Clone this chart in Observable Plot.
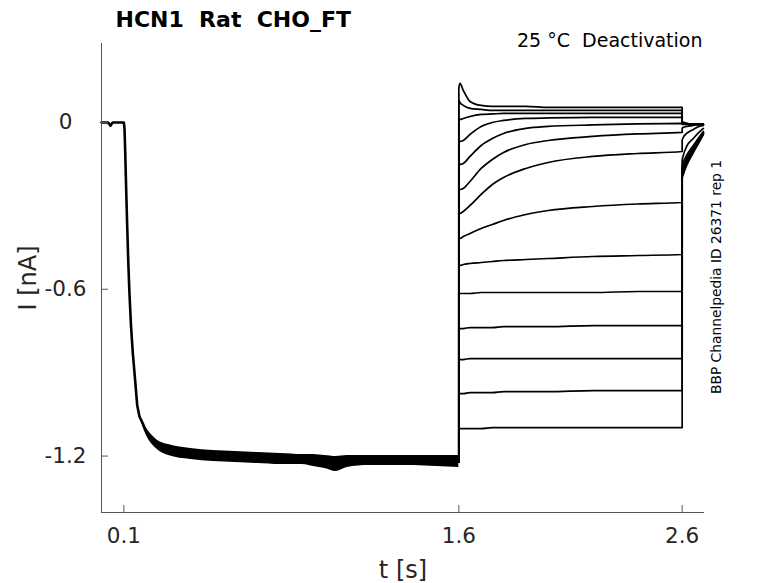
<!DOCTYPE html>
<html><head><meta charset="utf-8">
<script src="https://cdn.jsdelivr.net/npm/d3@7"></script>
<script src="https://cdn.jsdelivr.net/npm/@observablehq/plot@0.6"></script>
<style>body{margin:0;background:#fff} svg{white-space:pre}</style>
</head><body><div id="chart"></div>
<script>
// ---- text ----
const titleText = "HCN1  Rat  CHO_FT";
const noteText = "25 °C  Deactivation";
const idText = "BBP Channelpedia ID 26371 rep 1";
const xLabel = "t [s]";
const yLabel = "I [nA]";

// ---- axes ----
const xDomain = [0, 2.7];
const yDomain = [-1.403, 0.284];
const xTicks = [0.1, 1.6, 2.6];
const xTickLabels = ["0.1", "1.6", "2.6"];
const yTicks = [0, -0.6, -1.2];
const yTickLabels = ["0", "-0.6", "-1.2"];

// ---- activation step (shared by all sweeps), nA ----
const actT = [0, 0.03, 0.04, 0.05, 0.1, 0.103, 0.106, 0.11, 0.115, 0.12, 0.125, 0.132, 0.14, 0.15, 0.16, 0.17, 0.185, 0.2, 0.22, 0.25, 0.3, 0.35, 0.4, 0.5, 0.6, 0.7, 0.8, 0.9, 1.0, 1.05, 1.1, 1.2, 1.3, 1.4, 1.5, 1.6];
const actI = [0, 0, -0.012, 0, 0, -0.0216, -0.1008, -0.2267, -0.3706, -0.5038, -0.6117, -0.7305, -0.8277, -0.9212, -1.0184, -1.0579, -1.0831, -1.1119, -1.1371, -1.1587, -1.1767, -1.1875, -1.1947, -1.2019, -1.2055, -1.2091, -1.2127, -1.2127, -1.2163, -1.2271, -1.2199, -1.2163, -1.2163, -1.2163, -1.2199, -1.2199];

// noise band of the overlapping activation sweeps
const bandT = [0.17, 0.2, 0.25, 0.3, 0.4, 0.5, 0.6, 0.7, 0.8, 0.9, 0.95, 1.0, 1.05, 1.1, 1.2, 1.3, 1.4, 1.5, 1.6];
const bandHi = [-1.0579, -1.0995, -1.1427, -1.1587, -1.1731, -1.1803, -1.1839, -1.1875, -1.1911, -1.1947, -1.1947, -1.1983, -1.2019, -1.1983, -1.1983, -1.1983, -1.1983, -1.1983, -1.1983];
const bandLo = [-1.0579, -1.1243, -1.1763, -1.1983, -1.2127, -1.2199, -1.2235, -1.2271, -1.2307, -1.2307, -1.2379, -1.2450, -1.2558, -1.2414, -1.2343, -1.2343, -1.2343, -1.2379, -1.2414];

// ---- deactivation steps, nA ----
const deactT = [1.6, 1.605, 1.62, 1.65, 1.7, 1.75, 1.8, 1.9, 2.0, 2.2, 2.4, 2.6];
const sweep1  = [0.1223, 0.1403, 0.1151, 0.0756, 0.0612, 0.0576, 0.0576, 0.0576, 0.0540, 0.0540, 0.0540, 0.0540];
const sweep2  = [0.0792, 0.0720, 0.0612, 0.0504, 0.0468, 0.0432, 0.0432, 0.0432, 0.0432, 0.0432, 0.0432, 0.0432];
const sweep3  = [0.0144, 0.0108, 0.0144, 0.0216, 0.0288, 0.0306, 0.0324, 0.0324, 0.0324, 0.0324, 0.0324, 0.0324];
const sweep4  = [-0.0648, -0.0684, -0.0648, -0.0432, -0.0144, 0, 0.0072, 0.0144, 0.0162, 0.0180, 0.0180, 0.0180];
const sweep5  = [-0.1475, -0.1511, -0.1475, -0.1223, -0.0828, -0.0576, -0.0396, -0.0216, -0.0144, -0.0090, -0.0054, -0.0036];
const sweep6  = [-0.2375, -0.2411, -0.2375, -0.2123, -0.1655, -0.1331, -0.1080, -0.0792, -0.0648, -0.0504, -0.0414, -0.0360];
const sweep7  = [-0.3239, -0.3275, -0.3203, -0.2987, -0.2591, -0.2231, -0.1979, -0.1655, -0.1439, -0.1223, -0.1116, -0.1044];
const sweep8  = [-0.4174, -0.4174, -0.4102, -0.3994, -0.3814, -0.3670, -0.3526, -0.3311, -0.3167, -0.3023, -0.2933, -0.2879];
const sweep9  = [-0.5146, -0.5146, -0.5110, -0.5074, -0.5038, -0.5002, -0.4966, -0.4930, -0.4894, -0.4822, -0.4786, -0.4750];
const sweep10 = [-0.6153, -0.6153, -0.6153, -0.6153, -0.6117, -0.6117, -0.6117, -0.6117, -0.6117, -0.6117, -0.6081, -0.6081];
const sweep11 = [-0.7413, -0.7413, -0.7413, -0.7377, -0.7377, -0.7377, -0.7341, -0.7341, -0.7341, -0.7305, -0.7305, -0.7305];
const sweep12 = [-0.8528, -0.8528, -0.8528, -0.8492, -0.8492, -0.8492, -0.8492, -0.8492, -0.8492, -0.8492, -0.8492, -0.8492];
const sweep13 = [-0.9752, -0.9752, -0.9752, -0.9716, -0.9716, -0.9716, -0.9680, -0.9680, -0.9680, -0.9644, -0.9644, -0.9644];
const sweep14 = [-1.1011, -1.1011, -1.1011, -1.1011, -1.1011, -1.0975, -1.0975, -1.0975, -1.0975, -1.0975, -1.0975, -1.0975];

// ---- tail currents after return to holding, nA ----
const tailT = [2.6, 2.605, 2.62, 2.65, 2.675, 2.695];
const tail1  = [0, 0, -0.0036, -0.0072, -0.0072, -0.0072];
const tail2  = [0, 0, -0.0036, -0.0072, -0.0072, -0.0072];
const tail3  = [0, -0.0036, -0.0036, -0.0072, -0.0072, -0.0072];
const tail4  = [-0.0036, -0.0036, -0.0072, -0.0072, -0.0072, -0.0072];
const tail5  = [-0.0072, -0.0072, -0.0072, -0.0072, -0.0072, -0.0072];
const tail6  = [-0.0216, -0.0180, -0.0144, -0.0108, -0.0072, -0.0072];
const tail7  = [-0.0648, -0.0540, -0.0396, -0.0252, -0.0144, -0.0108];
const tail8  = [-0.1367, -0.1187, -0.0864, -0.0576, -0.0360, -0.0216];
const tail9  = [-0.1583, -0.1439, -0.1187, -0.0828, -0.0540, -0.0324];
const tail10 = [-0.1727, -0.1583, -0.1295, -0.0900, -0.0576, -0.0360];
const tail11 = [-0.1799, -0.1655, -0.1367, -0.0972, -0.0612, -0.0360];
const tail12 = [-0.1871, -0.1727, -0.1439, -0.1008, -0.0648, -0.0396];
const tail13 = [-0.1943, -0.1799, -0.1475, -0.1044, -0.0684, -0.0396];
const tail14 = [-0.2015, -0.1871, -0.1547, -0.1080, -0.0720, -0.0432];

const sweeps = [sweep1, sweep2, sweep3, sweep4, sweep5, sweep6, sweep7, sweep8, sweep9, sweep10, sweep11, sweep12, sweep13, sweep14];
const tails = [tail1, tail2, tail3, tail4, tail5, tail6, tail7, tail8, tail9, tail10, tail11, tail12, tail13, tail14];

// ---- build tables ----
const act = actT.map((t, i) => ({t, v: actI[i]}));
const band = bandT.map((t, i) => ({t, hi: bandHi[i], lo: bandLo[i]}));
const deact = [];
sweeps.forEach((s, k) => {
  deact.push({t: actT[actT.length - 1], v: actI[actI.length - 1], sweep: k});
  deactT.forEach((t, i) => deact.push({t, v: s[i], sweep: k}));
  tailT.forEach((t, i) => deact.push({t, v: tails[k][i], sweep: k}));
});

const axisColor = "#555";
const W = 778, H = 583, ML = 101, MR = 74, MT = 43, MB = 71;
const tickLen = 7;

const chart = Plot.plot({
  width: W, height: H,
  marginLeft: ML, marginRight: MR, marginTop: MT, marginBottom: MB,
  style: {fontFamily: "DejaVu Sans", background: "#fff", color: "#262626"},
  x: {domain: xDomain},
  y: {domain: yDomain},
  marks: [
    Plot.areaY(band, {x: "t", y1: "lo", y2: "hi", fill: "#000", curve: "monotone-x"}),
    Plot.line(act, {x: "t", y: "v", stroke: "#000", strokeWidth: 2.6}),
    Plot.line(deact, {x: "t", y: "v", z: "sweep", stroke: "#000", strokeWidth: 1.7, curve: "monotone-x"}),
    Plot.ruleX([xDomain[0]], {stroke: axisColor, strokeWidth: 1}),
    Plot.ruleY([yDomain[0]], {stroke: axisColor, strokeWidth: 1}),
    Plot.tickX(xTicks, {x: d => d, stroke: axisColor, insetTop: (H - MT - MB) - tickLen}),
    Plot.tickY(yTicks, {y: d => d, stroke: axisColor, insetRight: (W - ML - MR) - tickLen}),
    Plot.axisX({ticks: xTicks, tickFormat: d => xTickLabels[xTicks.indexOf(d)], tickSize: 0, tickPadding: 15, fontSize: 21.5, fill: "#262626", label: null}),
    Plot.axisY({ticks: yTicks, tickFormat: d => yTickLabels[yTicks.indexOf(d)], tickSize: 0, tickPadding: 36, textAnchor: "middle", fontSize: 21.5, fill: "#262626", label: null}),
    Plot.text([xLabel], {text: d => d, frameAnchor: "bottom", dy: 65, textAnchor: "middle", lineAnchor: "bottom", fontSize: 24, fill: "#262626"}),
    Plot.text([yLabel], {text: d => d, frameAnchor: "left", dx: -73, rotate: -90, textAnchor: "middle", fontSize: 24, fill: "#262626"}),
    Plot.text([titleText], {text: d => d, frameAnchor: "top-left", dx: 14, dy: -17, textAnchor: "start", lineAnchor: "bottom", fontSize: 22, fontWeight: "bold", fill: "#000"}),
    Plot.text([noteText], {text: d => d, frameAnchor: "top-right", dx: -2, dy: 3, textAnchor: "end", lineAnchor: "bottom", fontSize: 19, fill: "#000"}),
    Plot.text([idText], {text: d => d, frameAnchor: "right", dx: 12, dy: -1, rotate: -90, textAnchor: "middle", fontSize: 13.8, fill: "#000"})
  ]
});
document.getElementById("chart").appendChild(chart);
</script></body></html>
